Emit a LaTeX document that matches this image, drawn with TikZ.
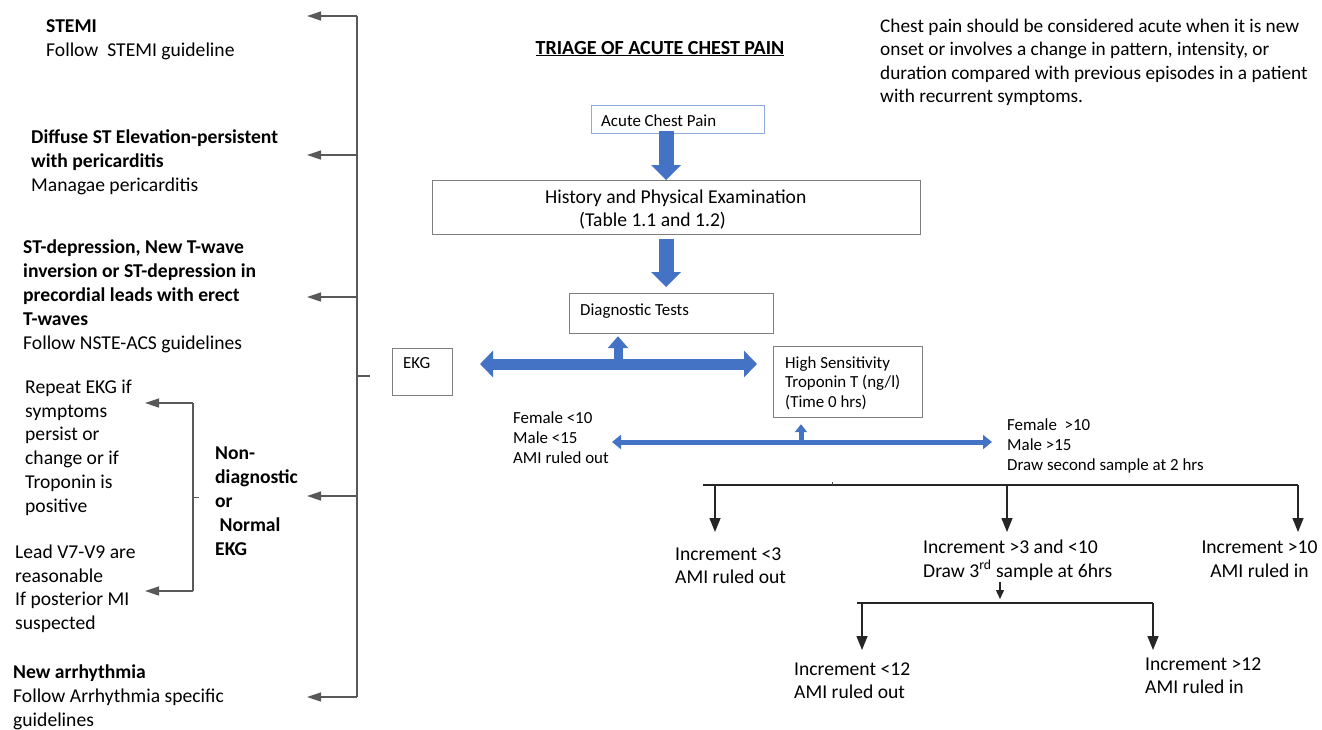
\documentclass[tikz,border=0pt]{standalone}
\usepackage{fontspec}
\setmainfont{Carlito}
\usetikzlibrary{arrows.meta}
\definecolor{abl}{HTML}{4472C4}
\definecolor{lbl}{HTML}{8FAADC}
\definecolor{gln}{HTML}{595959}
\definecolor{bxg}{HTML}{7F7F7F}
\newcommand\bigs{\rule{0pt}{17pt}}
\newcommand\smls{\rule{0pt}{15pt}}
\begin{document}
\begin{tikzpicture}[x=1pt,y=-1pt,
  bigt/.style={anchor=north west, inner sep=0pt, align=left, font=\fontsize{19.6}{24}\selectfont},
  smlt/.style={anchor=north west, inner sep=0pt, align=left, font=\fontsize{16.9}{20}\selectfont},
  box/.style={draw=bxg, line width=1.2pt, inner sep=0pt, anchor=north west},
  gar/.style={draw=gln, line width=1.3pt, -{Triangle[length=14pt,width=9pt]}},
  gln/.style={draw=gln, line width=1.3pt},
  bln/.style={draw=black!85, line width=1.4pt},
  bar/.style={draw=black!85, line width=1.4pt, -{Triangle[length=14pt,width=11pt]}},
  sbar/.style={draw=black!85, line width=1.4pt, -{Triangle[length=9pt,width=8pt]}},
  bigarrow/.style={draw=abl, line width=15pt, -{Triangle[length=15pt,width=29pt]}},
  dblarrow/.style={draw=abl, line width=11pt, {Triangle[length=13pt,width=26pt]}-{Triangle[length=13pt,width=26pt]}},
  uparrow/.style={draw=abl, line width=9pt, -{Triangle[length=12pt,width=20pt]}},
  thinarrow/.style={draw=abl, line width=5pt, {Triangle[length=9pt,width=14pt]}-{Triangle[length=9pt,width=14pt]}},
  thinup/.style={draw=abl, line width=5pt, -{Triangle[length=8pt,width=12pt]}}
]
\useasboundingbox (0,0) rectangle (1322,729);

% ---------- title and note ----------
\node[anchor=base, inner sep=0pt, font=\bfseries\fontsize{20}{22}\selectfont] (title) at (660,54) {\underline{TRIAGE OF ACUTE CHEST PAIN}};
\node[bigt, font=\fontsize{19.3}{23.5}\selectfont] (note) at (880,15) {\bigs Chest pain should be considered acute when it is new\\onset or involves a change in pattern, intensity, or\\duration compared with previous episodes in a patient\\with recurrent symptoms.};

% ---------- left column ----------
\node[bigt] (stemi) at (46,15) {\bigs\textbf{STEMI}\\Follow\ \ STEMI guideline};
\node[bigt] (diffuse) at (31,126) {\bigs\textbf{Diffuse ST Elevation-persistent}\\\textbf{with pericarditis}\\Managae pericarditis};
\node[bigt] (stdep) at (23,236) {\bigs\textbf{ST-depression, New T-wave}\\\textbf{inversion or ST-depression in}\\\textbf{precordial leads with erect}\\\textbf{T-waves}\\Follow NSTE-ACS guidelines};
\node[bigt, font=\fontsize{19.6}{23.8}\selectfont] (repeat) at (25,376) {\bigs Repeat EKG if\\symptoms\\persist or\\change or if\\Troponin is\\positive};
\node[bigt, font=\fontsize{19.6}{23.8}\selectfont] (lead) at (15,541) {\bigs Lead V7-V9 are\\reasonable\\If posterior MI\\suspected};
\node[bigt, font=\bfseries\fontsize{19.6}{24}\selectfont] (nondiag) at (215,442) {\bigs Non-\\diagnostic\\or\\\ Normal\\EKG};
\node[bigt] (arrh) at (13,661) {\bigs\textbf{New arrhythmia}\\Follow Arrhythmia specific\\guidelines};

% main bracket
\coordinate (bt) at (357,16);
\coordinate (bb) at (357,697);
\draw[gln] (bt) -- (bb);
\draw[gar] (bt) -- (307,16);
\draw[gar] (357,155) -- (307,155);
\draw[gar] (357,297) -- (307,297);
\draw[gar] (357,496) -- (307,496);
\draw[gar] (bb) -- (307,697);
\coordinate (ekgend) at (370,376);
\draw[gln] (357,376) -- (ekgend);

% inner bracket
\draw[gln] (193,403) -- (193,591);
\draw[gar] (193,403) -- (145,403);
\draw[gar] (193,591) -- (145,591);
\draw[draw=gln, line width=0.8pt] (193,497) -- (199,497);

% ---------- centre flow ----------
\node[box, draw=lbl, minimum width=173pt, minimum height=28pt] (acute) at (591,105) {};
\node[smlt] (acutet) at (601,111) {\smls Acute Chest Pain};

\node[box, minimum width=488pt, minimum height=54pt] (history) at (432,180) {};
\node[bigt, font=\fontsize{19.6}{23.5}\selectfont] (historyt) at (545,186) {\bigs History and Physical Examination\\\hspace*{34pt}(Table 1.1 and 1.2)};

\node[box, minimum width=204pt, minimum height=40pt] (diag) at (569,293) {};
\node[smlt] (diagt) at (580,300) {\smls Diagnostic Tests};

\node[box, minimum width=60pt, minimum height=47pt] (ekg) at (392,348) {};
\node[smlt] (ekgt) at (403,353) {\smls EKG};

\node[box, minimum width=149pt, minimum height=71pt] (trop) at (773,346) {};
\node[smlt, font=\fontsize{16.9}{19.5}\selectfont] (tropt) at (785,353) {\smls High Sensitivity\\Troponin T (ng/l)\\(Time 0 hrs)};

\draw[bigarrow] ([xshift=-12pt]acute.south) ++(0,-3) -- ([xshift=-12pt]acute.south |- history.north);
\draw[bigarrow] ([xshift=-12pt]acute.south |- history.south) ++(0,4) -- ([xshift=-12pt]acute.south |- 0,287);

\coordinate (hl) at (480,364);
\coordinate (hr) at (757,364);
\draw[dblarrow] (hl) -- (hr);
\draw[uparrow] (618,364) -- ([yshift=-2pt]diag.south -| 618,0);

% troponin results
\node[smlt] (lowtxt) at (513,408) {\smls Female <10\\Male <15\\AMI ruled out};
\node[smlt] (hightxt) at (1007,415) {\smls Female\ \ >10\\Male >15\\Draw second sample at 2 hrs};
\coordinate (tl) at (612,442);
\coordinate (tr) at (992,442);
\draw[thinarrow] (tl) -- (tr);
\draw[thinup] (801,442) -- ([yshift=-6pt]trop.south -| 801,0);

% ---------- bottom tree ----------
\node[bigt, font=\fontsize{19.6}{23.5}\selectfont] (inc3) at (675,543) {\bigs Increment <3\\AMI ruled out};
\node[bigt, font=\fontsize{19.6}{24}\selectfont] (inc310) at (923,536) {\bigs Increment >3 and <10\\Draw 3\textsuperscript{rd} sample at 6hrs};
\node[anchor=north, inner sep=0pt, align=center, font=\fontsize{19.6}{24}\selectfont] (inc10) at (1259.5,536) {\bigs Increment >10\\AMI ruled in};
\node[bigt, font=\fontsize{19.6}{23}\selectfont] (inc12a) at (794,658) {\bigs Increment <12\\AMI ruled out};
\node[bigt, font=\fontsize{19.6}{23}\selectfont] (inc12b) at (1145,653) {\bigs Increment >12\\AMI ruled in};

\coordinate (b1l) at (703,485);
\coordinate (b1r) at (1298,485);
\draw[bln] (b1l) -- (b1r);
\draw[draw=black!70, line width=0.8pt] (832,485) -- (832,482);
\draw[bar] (715,485) -- (715,532);
\draw[bar] (1007,485) -- (1007,532);
\draw[bar] (b1r) -- (1298,532);

\draw[sbar] (1000,582) -- (1000,599);
\coordinate (b2l) at (857,603);
\coordinate (b2r) at (1153,603);
\draw[bln] (b2l) -- (b2r);
\draw[bar] (862,603) -- (862,650);
\draw[bar] (b2r) -- (1153,650);
\end{tikzpicture}
\end{document}
